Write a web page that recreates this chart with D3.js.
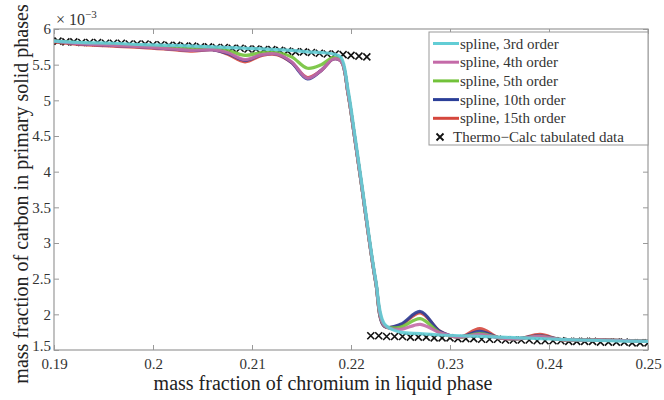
<!DOCTYPE html>
<html>
<head>
<meta charset="utf-8">
<script src="https://cdn.jsdelivr.net/npm/d3@7"></script>
<style>
  body { margin: 0; background: #fff; }
  svg text { font-family: "Liberation Serif", "Times New Roman", serif; }
</style>
</head>
<body>
<svg id="chart" width="664" height="400"></svg>
<script>
// spline curves, sampled along x (mass fraction Cr), y in units of 1e-3
var splineX = [0.190, 0.193, 0.196, 0.199, 0.202, 0.204, 0.206, 0.2075, 0.2093, 0.211,
               0.2125, 0.214, 0.2156, 0.217, 0.2182, 0.219, 0.2197, 0.2204, 0.2211, 0.2218,
               0.2225, 0.2234, 0.225, 0.227, 0.229, 0.231, 0.233, 0.235, 0.237, 0.2391,
               0.241, 0.243, 0.246, 0.250];

var spline3  = [5.83, 5.81, 5.80, 5.78, 5.77, 5.76, 5.75, 5.74, 5.73, 5.72,
                5.71, 5.70, 5.68, 5.67, 5.65, 5.60, 5.15, 4.50, 3.82, 3.12,
                2.48, 1.86, 1.75, 1.73, 1.71, 1.70, 1.69, 1.68, 1.67, 1.66,
                1.65, 1.64, 1.63, 1.62];
var spline4  = [5.83, 5.79, 5.77, 5.75, 5.72, 5.70, 5.71, 5.67, 5.57, 5.64,
                5.65, 5.54, 5.31, 5.42, 5.58, 5.55, 5.10, 4.45, 3.78, 3.08,
                2.45, 1.84, 1.79, 1.86, 1.74, 1.68, 1.72, 1.67, 1.66, 1.69,
                1.65, 1.64, 1.64, 1.62];
var spline5  = [5.83, 5.80, 5.78, 5.76, 5.74, 5.73, 5.73, 5.70, 5.63, 5.67,
                5.67, 5.61, 5.45, 5.50, 5.60, 5.56, 5.10, 4.45, 3.78, 3.08,
                2.45, 1.84, 1.82, 1.94, 1.74, 1.68, 1.73, 1.67, 1.66, 1.69,
                1.65, 1.64, 1.64, 1.62];
var spline10 = [5.83, 5.79, 5.77, 5.75, 5.72, 5.70, 5.71, 5.66, 5.56, 5.64,
                5.65, 5.53, 5.30, 5.42, 5.58, 5.55, 5.10, 4.45, 3.78, 3.08,
                2.45, 1.83, 1.86, 2.04, 1.76, 1.68, 1.76, 1.67, 1.66, 1.70,
                1.65, 1.64, 1.64, 1.62];
var spline15 = [5.82, 5.78, 5.76, 5.74, 5.71, 5.69, 5.71, 5.65, 5.54, 5.63,
                5.64, 5.53, 5.32, 5.42, 5.58, 5.55, 5.10, 4.45, 3.78, 3.08,
                2.45, 1.83, 1.85, 2.02, 1.76, 1.68, 1.80, 1.67, 1.66, 1.72,
                1.65, 1.64, 1.64, 1.62];

// Thermo-Calc tabulated points
var tcX = [0.1904, 0.1912, 0.1920, 0.1928, 0.1936, 0.1944, 0.1952, 0.1960, 0.1968, 0.1976,
           0.1984, 0.1992, 0.2000, 0.2008, 0.2016, 0.2024, 0.2032, 0.2040, 0.2048, 0.2056,
           0.2064, 0.2072, 0.2080, 0.2088, 0.2096, 0.2104, 0.2112, 0.2120, 0.2128, 0.2136,
           0.2144, 0.2152, 0.2160, 0.2168, 0.2176, 0.2184, 0.2192, 0.2200, 0.2208, 0.2216,
           0.2220, 0.2228, 0.2236, 0.2244, 0.2252, 0.2260, 0.2268, 0.2276, 0.2284, 0.2292,
           0.2300, 0.2308, 0.2316, 0.2324, 0.2332, 0.2340, 0.2348, 0.2356, 0.2364, 0.2372,
           0.2380, 0.2388, 0.2396, 0.2404, 0.2412, 0.2420, 0.2428, 0.2436, 0.2444, 0.2452,
           0.2460, 0.2468, 0.2476, 0.2484, 0.2492, 0.2500];
var tcY = [5.83, 5.82, 5.82, 5.81, 5.81, 5.81, 5.80, 5.80, 5.80, 5.79,
           5.79, 5.79, 5.78, 5.78, 5.77, 5.77, 5.76, 5.76, 5.75, 5.75,
           5.74, 5.74, 5.73, 5.73, 5.72, 5.72, 5.71, 5.71, 5.70, 5.69,
           5.68, 5.68, 5.67, 5.66, 5.65, 5.65, 5.64, 5.63, 5.62, 5.61,
           1.70, 1.70, 1.69, 1.69, 1.69, 1.68, 1.68, 1.68, 1.67, 1.67,
           1.67, 1.66, 1.66, 1.66, 1.65, 1.65, 1.65, 1.64, 1.64, 1.64,
           1.64, 1.63, 1.63, 1.63, 1.63, 1.62, 1.62, 1.62, 1.62, 1.61,
           1.61, 1.61, 1.61, 1.60, 1.60, 1.60];

var xTicks = [0.19, 0.20, 0.21, 0.22, 0.23, 0.24, 0.25];
var xTickLabels = ["0.19", "0.2", "0.21", "0.22", "0.23", "0.24", "0.25"];
var yTicks = [1.5, 2, 2.5, 3, 3.5, 4, 4.5, 5, 5.5, 6];
var yTickLabels = ["1.5", "2", "2.5", "3", "3.5", "4", "4.5", "5", "5.5", "6"];

var seriesNames = ["spline, 3rd order", "spline, 4th order", "spline, 5th order",
                   "spline, 10th order", "spline, 15th order"];
var seriesValues = [spline3, spline4, spline5, spline10, spline15];
var seriesColors = ["#62cdd5", "#c46aa8", "#72c23a", "#2b3f98", "#d5473d"];

/********************************/
var svg = d3.select("#chart"),
    margin = {top: 29, right: 16, bottom: 50, left: 54},
    width = +svg.attr("width") - margin.left - margin.right,
    height = +svg.attr("height") - margin.top - margin.bottom;

var x = d3.scaleLinear().domain([0.19, 0.25]).range([0, width]);
var y = d3.scaleLinear().domain([1.5, 6]).range([height, 0]);

var g = svg.append("g").attr("transform", "translate(" + margin.left + "," + margin.top + ")");

svg.append("defs").append("clipPath").attr("id", "plotclip")
    .append("rect").attr("width", width).attr("height", height);

// axes, MATLAB style: inward ticks on all four sides
function styleAxis(sel) {
    sel.select(".domain").remove();
    sel.selectAll("line").attr("stroke", "#999");
    sel.selectAll("text").attr("fill", "#333").style("font-size", "15px");
}

g.append("g").attr("transform", "translate(0," + height + ")")
    .call(d3.axisBottom(x).tickValues(xTicks).tickSizeInner(-5).tickSizeOuter(0).tickPadding(8)
          .tickFormat((d, i) => xTickLabels[i]))
    .call(styleAxis);
g.append("g")
    .call(d3.axisTop(x).tickValues(xTicks).tickSizeInner(-5).tickSizeOuter(0).tickFormat(""))
    .call(styleAxis);
var yAx = g.append("g")
    .call(d3.axisLeft(y).tickValues(yTicks).tickSizeInner(-5).tickSizeOuter(0).tickPadding(3)
          .tickFormat((d, i) => yTickLabels[i]))
    .call(styleAxis);
// lift the bottom label a little so it clears 0.19
yAx.selectAll("text").filter(d => d === 1.5).attr("dy", "0.05em");
g.append("g").attr("transform", "translate(" + width + ",0)")
    .call(d3.axisRight(y).tickValues(yTicks).tickSizeInner(-5).tickSizeOuter(0).tickFormat(""))
    .call(styleAxis);

g.append("rect").attr("width", width).attr("height", height)
    .attr("fill", "none").attr("stroke", "#999").attr("stroke-width", 1.2);

// exponent label
var expo = svg.append("text").attr("x", 56).attr("y", 25).attr("fill", "#333").style("font-size", "16px");
expo.append("tspan").text("\u00d7 10");
expo.append("tspan").attr("dy", -7).style("font-size", "11px").text("\u22123");

// data
var plot = g.append("g").attr("clip-path", "url(#plotclip)");

function crossPath(cx, cy, r) {
    return "M" + (cx - r) + "," + (cy - r) + "L" + (cx + r) + "," + (cy + r) +
           "M" + (cx - r) + "," + (cy + r) + "L" + (cx + r) + "," + (cy - r);
}

plot.selectAll(".tc")
    .data(tcX.map((d, i) => [d, tcY[i]]))
    .enter().append("path")
    .attr("class", "tc")
    .attr("d", d => crossPath(x(d[0]), y(d[1]), 3.5))
    .attr("stroke", "#111").attr("stroke-width", 1.6).attr("fill", "none");

var line = d3.line()
    .x(d => x(d[0]))
    .y(d => y(d[1]))
    .curve(d3.curveCatmullRom.alpha(0.5));

// higher orders first so the 3rd order ends up on top
[4, 3, 2, 1, 0].forEach(function (k) {
    plot.append("path")
        .datum(splineX.map((d, i) => [d, seriesValues[k][i]]))
        .attr("d", line)
        .attr("fill", "none")
        .attr("stroke", seriesColors[k])
        .attr("stroke-width", 3.2)
        .attr("stroke-linejoin", "round")
        .attr("opacity", 0.9);
});

// legend
var lg = svg.append("g").attr("transform", "translate(429,32)");
lg.append("rect").attr("width", 219).attr("height", 113)
    .attr("fill", "#fff").attr("stroke", "#999");
seriesNames.forEach(function (name, i) {
    var yy = 11.5 + i * 18.7;
    lg.append("line").attr("x1", 4).attr("x2", 30).attr("y1", yy).attr("y2", yy)
        .attr("stroke", seriesColors[i]).attr("stroke-width", 3);
    lg.append("text").attr("x", 31).attr("y", yy + 5)
        .attr("fill", "#333").style("font-size", "15px").text(name);
});
var ty = 11.5 + 5 * 18.7;
lg.append("path").attr("d", crossPath(11, ty, 3.5))
    .attr("stroke", "#111").attr("stroke-width", 1.8);
lg.append("text").attr("x", 24).attr("y", ty + 5)
    .attr("fill", "#333").style("font-size", "15px").text("Thermo\u2212Calc tabulated data");

// axis titles
svg.append("text")
    .attr("x", 323).attr("y", 390)
    .attr("text-anchor", "middle").attr("fill", "#222")
    .style("font-size", "20px")
    .text("mass fraction of chromium in liquid phase");
svg.append("text")
    .attr("transform", "translate(28,194) rotate(-90)")
    .attr("text-anchor", "middle").attr("fill", "#222")
    .style("font-size", "20px")
    .text("mass fraction of carbon in primary solid phases");
</script>
</body>
</html>
